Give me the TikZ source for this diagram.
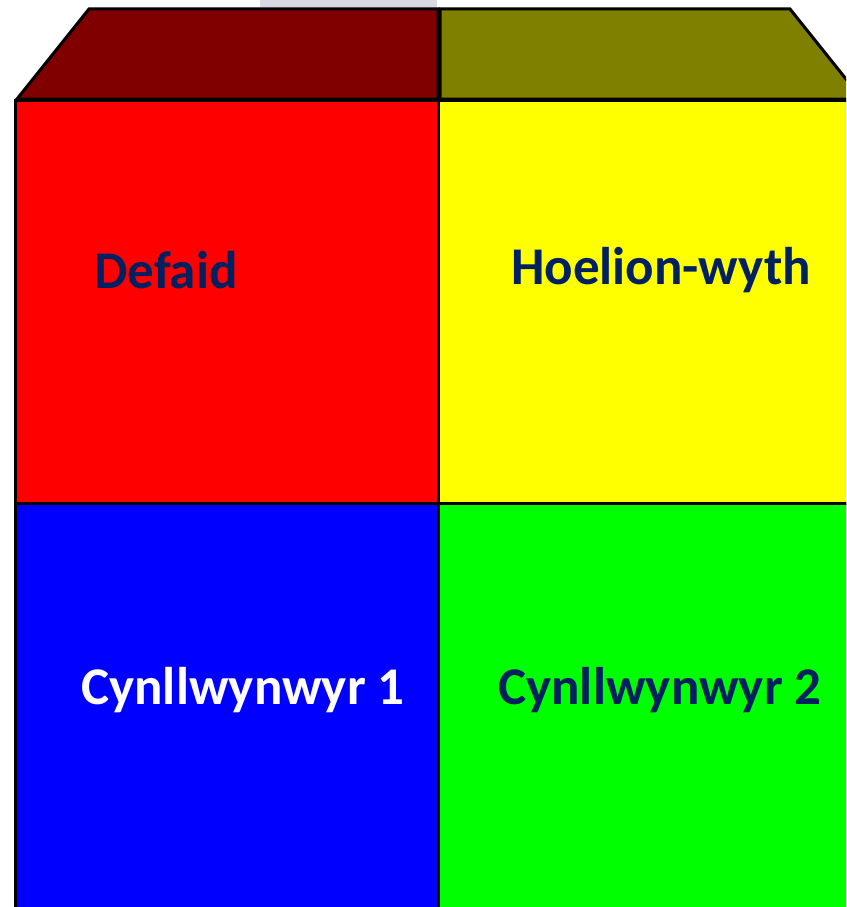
\documentclass[tikz,border=0pt]{standalone}
\usepackage{fontspec}
\setmainfont{Carlito}
\definecolor{roofred}{HTML}{800000}
\definecolor{roofolive}{HTML}{808000}
\definecolor{navytext}{HTML}{002060}
\definecolor{tabgray}{HTML}{DAD8E3}
\definecolor{boxyellow}{RGB}{255,255,0}
\definecolor{boxgreen}{RGB}{0,255,0}
\definecolor{boxblue}{RGB}{0,0,255}
\definecolor{boxred}{RGB}{255,0,0}
\tikzset{
  panel/.style={draw=black, line width=3pt},
  label/.style={font=\fontsize{53}{60}\selectfont\bfseries, text=navytext}
}
\begin{document}
\begin{tikzpicture}[x=1pt, y=-1pt]
    \useasboundingbox (0,0) rectangle (846,907);
    \clip (0,0) rectangle (846,907);

    % Grey tab behind roof
    \fill[tabgray] (260,0) rectangle (437,12);

    % Roof corners
    \coordinate (RL) at (89,9);
    \coordinate (RM) at (438,9);
    \coordinate (RR) at (790,9);

    % Roof panels
    \draw[panel, fill=roofred] (RL) -- (RM) -- (438,99) -- (17,99) -- cycle;
    \draw[panel, fill=roofolive] (440,9) -- (RR) -- (862,99) -- (440,99) -- cycle;

    % Four coloured quarters
    \draw[panel, fill=boxred] (15,100) rectangle (438,503);
    \draw[panel, fill=boxyellow] (438,100) rectangle (880,503);
    \draw[panel, fill=boxblue] (15,503) rectangle (438,940);
    \draw[panel, fill=boxgreen] (438,503) rectangle (880,940);

    % Labels
    \node[label] (defaid) at (166,270) {Defaid};
    \node[label] (hoelion) at (661,270) {Hoelion-wyth};
    \node[label, text=white] (cynll1) at (243,690) {Cynllwynwyr 1};
    \node[label] (cynll2) at (660,690) {Cynllwynwyr 2};
\end{tikzpicture}
\end{document}
